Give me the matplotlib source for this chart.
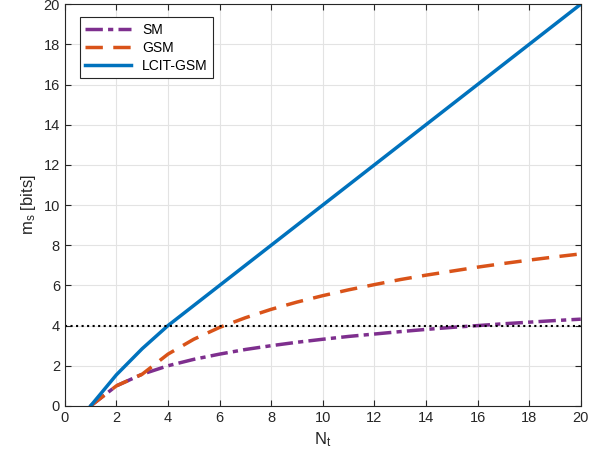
import matplotlib
matplotlib.use('Agg')
from matplotlib import pyplot as plt

plt.rcParams['font.family'] = ['Liberation Sans', 'DejaVu Sans']

# Data
nt = list(range(1, 21))
sm = [0, 1, 1.58, 2, 2.32, 2.58, 2.81, 3, 3.17, 3.32,
      3.46, 3.58, 3.70, 3.81, 3.91, 4, 4.09, 4.17, 4.25, 4.32]
gsm = [0, 1, 1.58, 2.58, 3.32, 3.91, 4.39, 4.81, 5.17, 5.49,
       5.78, 6.04, 6.29, 6.51, 6.71, 6.91, 7.09, 7.26, 7.42, 7.57]
lcit = [0, 1.55, 2.85, 4, 5, 6, 7, 8, 9, 10,
        11, 12, 13, 14, 15, 16, 17, 18, 19, 20]
threshold = 4

fig = plt.figure(figsize=(5.89, 4.65), dpi=100)
ax = fig.add_axes([0.110, 0.127, 0.876, 0.864])

ax.plot(nt, sm, color='#7E2F8E', linestyle=(0, (5, 1.5, 1.5, 1.5)), linewidth=2.5, label='SM')
ax.plot(nt, gsm, color='#D95319', linestyle=(0, (5, 3)), linewidth=2.5, label='GSM')
ax.plot(nt, lcit, color='#0072BD', linestyle='-', linewidth=2.5, label='LCIT-GSM')
ax.axhline(threshold, color='black', linestyle=':', linewidth=1.5)

ax.set_xlim(0, 20)
ax.set_ylim(0, 20)
ax.set_xticks(range(0, 21, 2))
ax.set_yticks(range(0, 21, 2))
ax.grid(True, color='#e3e3e3', linewidth=0.8)
ax.set_axisbelow(True)
ax.tick_params(direction='in', top=True, right=True, labelsize=10.5, colors='#262626', length=4)
for s in ax.spines.values():
    s.set_color('#262626')
    s.set_linewidth(0.8)

ax.set_xlabel('$\\mathregular{N_t}$', fontsize=12, color='#262626')
ax.set_ylabel('$\\mathregular{m_s}$ [bits]', fontsize=12, color='#262626')

leg = ax.legend(loc='upper left', bbox_to_anchor=(0.029, 0.968), fontsize=10,
                fancybox=False, edgecolor='#262626', framealpha=1,
                handlelength=3.3, borderaxespad=0, labelspacing=0.3)
leg.get_frame().set_linewidth(0.8)

fig.savefig('out.png', dpi=100)
